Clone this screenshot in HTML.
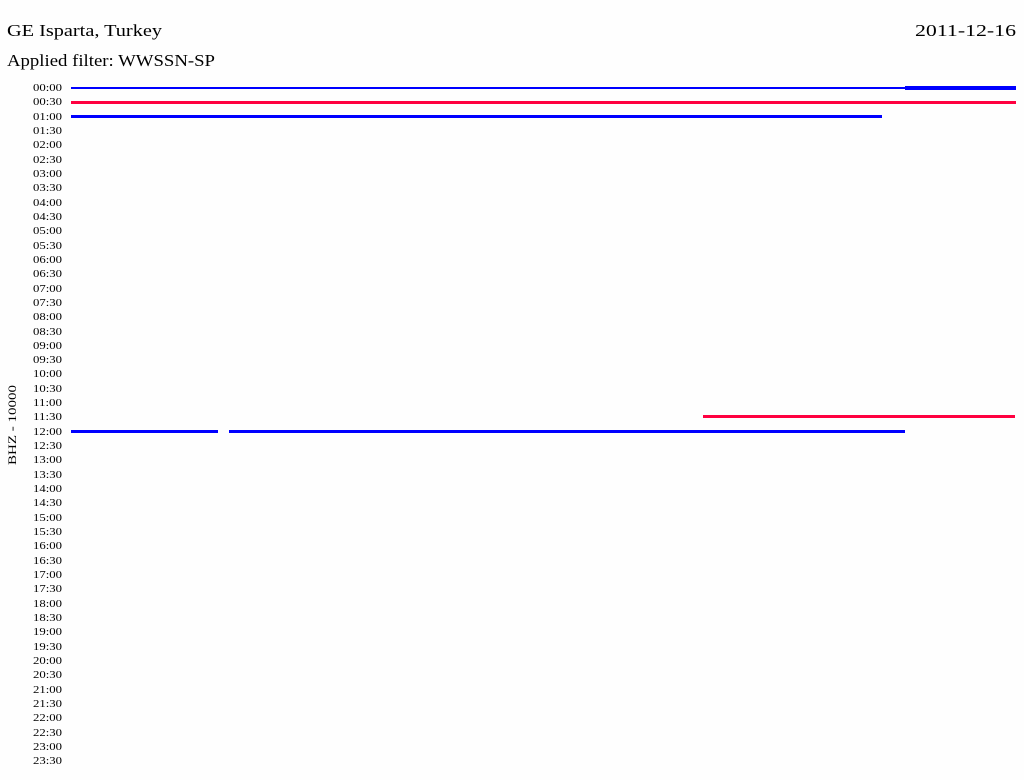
<!DOCTYPE html>
<html><head><style>
html,body{margin:0;padding:0;background:#fff;width:1024px;height:780px;overflow:hidden}
svg{display:block}
text{font-family:"Liberation Serif",serif;fill:#000}
</style></head><body>
<svg width="1024" height="780" xmlns="http://www.w3.org/2000/svg">
<rect width="1024" height="780" fill="#fefefe"/>
<text x="7" y="36" font-size="17" textLength="155" lengthAdjust="spacingAndGlyphs">GE Isparta, Turkey</text>
<text x="915" y="36" font-size="17" textLength="101" lengthAdjust="spacingAndGlyphs">2011-12-16</text>
<text x="7" y="66" font-size="17" textLength="208" lengthAdjust="spacingAndGlyphs">Applied filter: WWSSN-SP</text>
<text transform="translate(16,465) rotate(-90)" font-size="12" textLength="80" lengthAdjust="spacingAndGlyphs">BHZ - 10000</text>
<g font-size="11">
<text x="33" y="91" textLength="29" lengthAdjust="spacingAndGlyphs">00:00</text><text x="33" y="105" textLength="29" lengthAdjust="spacingAndGlyphs">00:30</text><text x="33" y="120" textLength="29" lengthAdjust="spacingAndGlyphs">01:00</text><text x="33" y="134" textLength="29" lengthAdjust="spacingAndGlyphs">01:30</text>
<text x="33" y="148" textLength="29" lengthAdjust="spacingAndGlyphs">02:00</text><text x="33" y="163" textLength="29" lengthAdjust="spacingAndGlyphs">02:30</text><text x="33" y="177" textLength="29" lengthAdjust="spacingAndGlyphs">03:00</text><text x="33" y="191" textLength="29" lengthAdjust="spacingAndGlyphs">03:30</text>
<text x="33" y="206" textLength="29" lengthAdjust="spacingAndGlyphs">04:00</text><text x="33" y="220" textLength="29" lengthAdjust="spacingAndGlyphs">04:30</text><text x="33" y="234" textLength="29" lengthAdjust="spacingAndGlyphs">05:00</text><text x="33" y="249" textLength="29" lengthAdjust="spacingAndGlyphs">05:30</text>
<text x="33" y="263" textLength="29" lengthAdjust="spacingAndGlyphs">06:00</text><text x="33" y="277" textLength="29" lengthAdjust="spacingAndGlyphs">06:30</text><text x="33" y="292" textLength="29" lengthAdjust="spacingAndGlyphs">07:00</text><text x="33" y="306" textLength="29" lengthAdjust="spacingAndGlyphs">07:30</text>
<text x="33" y="320" textLength="29" lengthAdjust="spacingAndGlyphs">08:00</text><text x="33" y="335" textLength="29" lengthAdjust="spacingAndGlyphs">08:30</text><text x="33" y="349" textLength="29" lengthAdjust="spacingAndGlyphs">09:00</text><text x="33" y="363" textLength="29" lengthAdjust="spacingAndGlyphs">09:30</text>
<text x="33" y="377" textLength="29" lengthAdjust="spacingAndGlyphs">10:00</text><text x="33" y="392" textLength="29" lengthAdjust="spacingAndGlyphs">10:30</text><text x="33" y="406" textLength="29" lengthAdjust="spacingAndGlyphs">11:00</text><text x="33" y="420" textLength="29" lengthAdjust="spacingAndGlyphs">11:30</text>
<text x="33" y="435" textLength="29" lengthAdjust="spacingAndGlyphs">12:00</text><text x="33" y="449" textLength="29" lengthAdjust="spacingAndGlyphs">12:30</text><text x="33" y="463" textLength="29" lengthAdjust="spacingAndGlyphs">13:00</text><text x="33" y="478" textLength="29" lengthAdjust="spacingAndGlyphs">13:30</text>
<text x="33" y="492" textLength="29" lengthAdjust="spacingAndGlyphs">14:00</text><text x="33" y="506" textLength="29" lengthAdjust="spacingAndGlyphs">14:30</text><text x="33" y="521" textLength="29" lengthAdjust="spacingAndGlyphs">15:00</text><text x="33" y="535" textLength="29" lengthAdjust="spacingAndGlyphs">15:30</text>
<text x="33" y="549" textLength="29" lengthAdjust="spacingAndGlyphs">16:00</text><text x="33" y="564" textLength="29" lengthAdjust="spacingAndGlyphs">16:30</text><text x="33" y="578" textLength="29" lengthAdjust="spacingAndGlyphs">17:00</text><text x="33" y="592" textLength="29" lengthAdjust="spacingAndGlyphs">17:30</text>
<text x="33" y="607" textLength="29" lengthAdjust="spacingAndGlyphs">18:00</text><text x="33" y="621" textLength="29" lengthAdjust="spacingAndGlyphs">18:30</text><text x="33" y="635" textLength="29" lengthAdjust="spacingAndGlyphs">19:00</text><text x="33" y="650" textLength="29" lengthAdjust="spacingAndGlyphs">19:30</text>
<text x="33" y="664" textLength="29" lengthAdjust="spacingAndGlyphs">20:00</text><text x="33" y="678" textLength="29" lengthAdjust="spacingAndGlyphs">20:30</text><text x="33" y="693" textLength="29" lengthAdjust="spacingAndGlyphs">21:00</text><text x="33" y="707" textLength="29" lengthAdjust="spacingAndGlyphs">21:30</text>
<text x="33" y="721" textLength="29" lengthAdjust="spacingAndGlyphs">22:00</text><text x="33" y="736" textLength="29" lengthAdjust="spacingAndGlyphs">22:30</text><text x="33" y="750" textLength="29" lengthAdjust="spacingAndGlyphs">23:00</text><text x="33" y="764" textLength="29" lengthAdjust="spacingAndGlyphs">23:30</text>
</g>
<rect x="71" y="87" width="945" height="2" fill="#0000ff"/>
<rect x="905" y="86" width="111" height="4" fill="#0000ff"/>
<rect x="71" y="101" width="945" height="3" fill="#ff0040"/>
<rect x="71" y="115" width="811" height="3" fill="#0000ff"/>
<rect x="703" y="415" width="312" height="3" fill="#ff0040"/>
<rect x="71" y="430" width="147" height="3" fill="#0000ff"/>
<rect x="229" y="430" width="676" height="3" fill="#0000ff"/>
</svg>
</body></html>
